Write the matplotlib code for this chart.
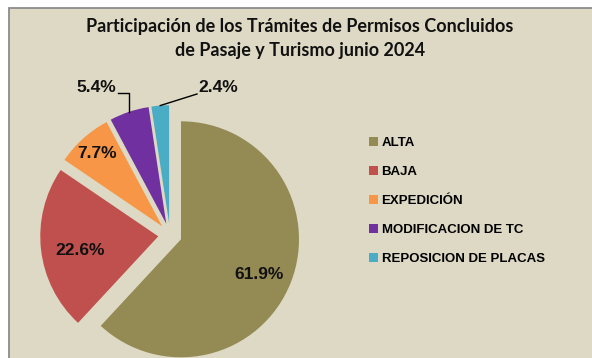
import numpy as np
import matplotlib
matplotlib.use("Agg")
import matplotlib.pyplot as plt
from matplotlib.patches import Rectangle

# Participación por tipo de trámite (%)
categorias = ["ALTA", "BAJA", "EXPEDICIÓN", "MODIFICACION DE TC", "REPOSICION DE PLACAS"]
porcentajes = [61.9, 22.6, 7.7, 5.4, 2.4]
colores = ["#948A54", "#C0504D", "#F79646", "#7030A0", "#4BACC6"]
titulo = "Participación de los Trámites de Permisos Concluidos\nde Pasaje y Turismo junio 2024"

W, H = 592, 358
CX, CY, R = 170, 235, 118     # centro y radio del pastel en pixeles

fig = plt.figure(figsize=(W / 100, H / 100), dpi=100)
fig.patch.set_facecolor("white")

# area del grafico con borde gris
fig.add_artist(Rectangle((9 / W, -0.1), 1.0, 1.1 - 8 / H, transform=fig.transFigure,
                         facecolor="#DDD9C4", edgecolor="#8C8C8C", lw=1.3, zorder=-1))

ax = fig.add_axes([0, 0, 1, 1])
ax.axis("off")

wedges, _ = ax.pie(porcentajes, colors=colores, startangle=90, counterclock=False,
                   explode=[0.1] * len(porcentajes), radius=1,
                   wedgeprops=dict(linewidth=0))
ax.set_xlim(-CX / R, (W - CX) / R)
ax.set_ylim(-(H - CY) / R, CY / R)
ax.set_aspect("equal")

lbl = dict(family="Liberation Sans", weight="bold", size=12.5, color="#111111")


def px(x, y):
    return (x - CX) / R, (CY - y) / R


def mid(w):
    t = np.deg2rad((w.theta1 + w.theta2) / 2)
    return np.cos(t), np.sin(t)


# etiquetas dentro de las porciones grandes
for w, v, d, giro in zip(wedges[:3], porcentajes[:3], [0.73, 0.67, 0.83], [-3, 4, 0]):
    t = np.deg2rad((w.theta1 + w.theta2) / 2 + giro)
    x0, y0 = w.center
    ax.text(x0 + d * np.cos(t), y0 + d * np.sin(t), f"{v:.1f}%",
            ha="center", va="center", **lbl)

# MODIFICACION DE TC: linea guia en angulo
w = wedges[3]
c, s = mid(w)
ancla = (w.center[0] + c, w.center[1] + s)
codo_y = px(0, 93)[1]
fin_x = px(118, 0)[0]
ax.plot([ancla[0], ancla[0], fin_x], [ancla[1], codo_y, codo_y], color="black", lw=1)
ax.text(*px(96, 87), f"{porcentajes[3]:.1f}%", ha="center", va="center", **lbl)

# REPOSICION DE PLACAS: linea guia recta
w = wedges[4]
c, s = mid(w)
ancla = (w.center[0] + c, w.center[1] + s)
fin = px(197, 94)
ax.plot([ancla[0], fin[0]], [ancla[1], fin[1]], color="black", lw=1)
ax.text(*px(218, 87), f"{porcentajes[4]:.1f}%", ha="center", va="center", **lbl)

ax.legend(wedges, categorias, loc="upper left", bbox_to_anchor=(369 / W, 1 - 137 / H),
          bbox_transform=fig.transFigure, frameon=False,
          prop=dict(family="Liberation Sans", weight="bold", size=9.5),
          handlelength=0.65, handleheight=0.65, handletextpad=0.3,
          labelspacing=1.28, borderpad=0, borderaxespad=0)

fig.text(300 / W, 1 - 38.5 / H, titulo, ha="center", va="center", family="Lato",
         weight="bold", size=13, linespacing=1.5, color="#111111")

fig.savefig("out.png", dpi=100, facecolor=fig.get_facecolor())
